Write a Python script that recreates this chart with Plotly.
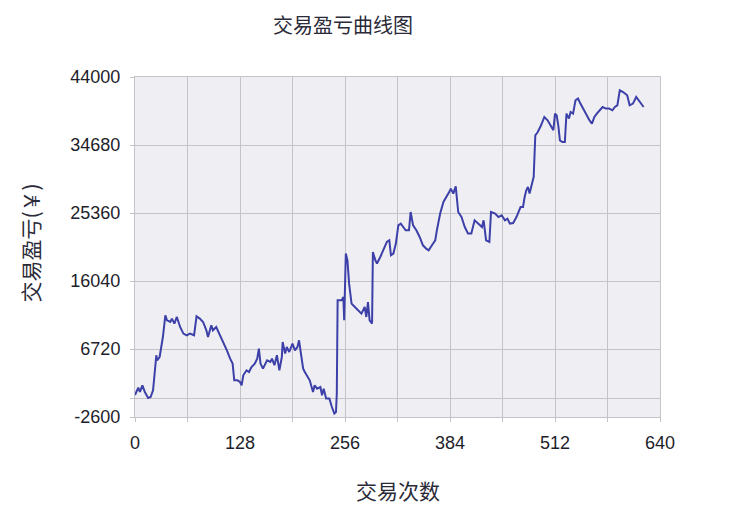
import plotly.graph_objects as go

title_text = "交易盈亏曲线图"
x_title = "交易次数"
y_title = "交易盈亏(￥)"

trade_no = [0, 2, 4, 6, 9, 12, 16, 19, 22, 26, 27, 30, 34, 37, 39, 43, 45, 48, 51, 55,
            59, 63, 67, 72, 75, 79, 83, 87, 89, 93, 95, 99, 102, 106, 112, 116, 119, 121, 125, 128,
            130, 132, 136, 139, 142, 146, 149, 151, 153, 156, 161, 165, 167, 170, 173, 176, 179, 180, 183, 185,
            188, 192, 195, 198, 200, 202, 205, 207, 209, 213, 217, 219, 222, 226, 228, 230, 233, 237, 240, 243,
            245, 246, 247, 248, 252, 254, 255, 257, 259, 261, 264, 268, 272, 276, 280, 282, 284, 286, 289, 290,
            293, 295, 299, 303, 307, 310, 312, 315, 318, 321, 324, 327, 330, 334, 336, 339, 343, 347, 351, 355,
            358, 362, 366, 368, 372, 376, 380, 383, 385, 388, 391, 394, 398, 402, 406, 410, 414, 418, 423, 425,
            428, 432, 434, 439, 443, 447, 451, 454, 457, 461, 465, 470, 473, 475, 477, 479, 481, 484, 486, 488,
            491, 495, 499, 503, 507, 510, 512, 514, 516, 518, 521, 524, 526, 529, 531, 534, 537, 540, 542, 546,
            550, 554, 557, 560, 563, 566, 570, 574, 578, 582, 585, 588, 591, 595, 600, 603, 607, 611, 615, 620]

profit = [400, 1060, 1430, 830, 1740, 830, 0, 140, 1060, 5860, 5170, 5620, 8360, 11340, 10650, 10420, 10890, 10200, 11110, 9740,
          8830, 8600, 8830, 8600, 11200, 10890, 10420, 9280, 8360, 9970, 9280, 9740, 9050, 8150, 6540, 5400, 4720, 2430, 2430, 2200,
          1740, 3120, 3800, 3570, 4250, 4720, 5400, 6780, 4720, 4030, 5170, 4940, 5400, 4490, 5860, 3800, 5620, 7680, 6090, 6990,
          6310, 7460, 6540, 6990, 7910, 6310, 4030, 3570, 3120, 2430, 830, 1740, 1290, 1510, 370, 1290, -80, -80, -1230, -2130,
          -1920, 610, 13400, 13400, 13400, 13850, 10650, 19800, 18880, 15680, 12940, 12480, 12020, 11570, 12480, 11110, 13160, 10650, 10200, 20010,
          18880, 18430, 19330, 20480, 21390, 21620, 19560, 19800, 21170, 23670, 23910, 23440, 22990, 22990, 25500, 23670, 22990, 22070, 20930, 20480,
          20250, 20930, 21620, 22990, 25280, 26870, 27550, 28240, 28700, 28020, 29020, 25500, 24810, 23440, 22540, 22540, 24360, 23910, 23440, 24360,
          21620, 21390, 25500, 25280, 24810, 25050, 24360, 24590, 23910, 23990, 24810, 26180, 26180, 27550, 28470, 28920, 28020, 29390, 30290, 36010,
          36460, 37380, 38520, 38070, 37380, 36700, 38980, 38750, 37380, 35320, 35090, 35090, 38980, 38300, 39200, 38980, 40810, 41040, 40570, 39670,
          38980, 38070, 37610, 38520, 38980, 39440, 39890, 39670, 39670, 39440, 39890, 40120, 42180, 41940, 41490, 40120, 40350, 41260, 40570, 39890]

y_tick_vals = [-2600, 0, 6720, 16040, 25360, 34680, 44000]
y_tick_text = ["-2600", "", "6720", "16040", "25360", "34680", "44000"]
x_tick_vals = [0, 64, 128, 192, 256, 320, 384, 448, 512, 576, 640]
x_tick_text = ["0", "", "128", "", "256", "", "384", "", "512", "", "640"]

num_font = "Liberation Sans, Arial, sans-serif"
cjk_font = "Noto Sans CJK SC, sans-serif"
text_color = "#1e1e2a"
grid_color = "#c4c4c8"

# the page body adds an 8px offset, so the figure is drawn at 730x522
W, H = 730, 522
L, R, T, B = 127, 78, 69, 113

fig = go.Figure()
fig.add_trace(go.Scatter(
    x=trade_no, y=profit, mode="lines",
    line=dict(color="#3c40a8", width=2),
    showlegend=False, hoverinfo="x+y",
))

plot_h = H - T - B
plot_w = W - L - R

fig.update_layout(
    width=W, height=H,
    paper_bgcolor="white",
    plot_bgcolor="#efeff3",
    margin=dict(l=L, r=R, t=T, b=B, autoexpand=False),
    xaxis=dict(
        range=[0, 640], tickmode="array", tickvals=x_tick_vals, ticktext=x_tick_text,
        showgrid=True, gridcolor=grid_color, gridwidth=1,
        showline=True, linecolor=grid_color, linewidth=1, mirror=True,
        ticks="outside", ticklen=4, tickcolor=grid_color,
        ticklabelstandoff=5,
        tickfont=dict(family=num_font, size=18, color=text_color),
        zeroline=False,
    ),
    yaxis=dict(
        range=[-2600, 44000], tickmode="array", tickvals=y_tick_vals, ticktext=y_tick_text,
        showgrid=True, gridcolor=grid_color, gridwidth=1,
        showline=True, linecolor=grid_color, linewidth=1, mirror=True,
        ticks="outside", ticklen=4, tickcolor=grid_color,
        ticklabelstandoff=6,
        tickfont=dict(family=num_font, size=18, color=text_color),
        zeroline=False,
    ),
    annotations=[
        dict(text=title_text, xref="paper", yref="paper", x=(335 - L) / plot_w,
             y=1 + (T - 16) / plot_h, xanchor="center", yanchor="middle", showarrow=False,
             font=dict(family=cjk_font, size=20, color="#2a2a38")),
        dict(text=x_title, xref="paper", yref="paper", x=0.5, y=-73 / plot_h,
             xanchor="center", yanchor="middle", showarrow=False,
             font=dict(family=cjk_font, size=21, color="#2a2a38")),
        dict(text=y_title, xref="paper", yref="paper", x=(22 - L) / plot_w, y=0.51,
             xanchor="center", yanchor="middle", showarrow=False, textangle=-90,
             font=dict(family=cjk_font, size=21, color="#2a2a38")),
    ],
)

fig.write_html("out.html")
